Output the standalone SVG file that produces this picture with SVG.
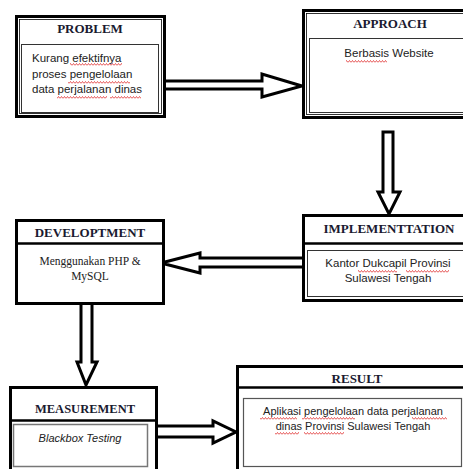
<svg xmlns="http://www.w3.org/2000/svg" width="463" height="469" viewBox="0 0 463 469">
<style>
.outer{fill:#fff;stroke:#000;stroke-width:3}
.thin{fill:none;stroke:#000;stroke-width:0.8}
.inner{fill:none;stroke:#333;stroke-width:1}
.sep{stroke:#000;stroke-width:2.5}
.title{font-family:"Liberation Serif",serif;font-weight:bold;font-size:13px;fill:#1a1a30;text-anchor:middle}
.body{font-family:"Liberation Sans",Arial,sans-serif;font-size:11.5px;fill:#222}
.serif{font-family:"Liberation Serif",serif;font-size:11.5px;fill:#222;text-anchor:middle}
.arrow{fill:#fff;stroke:#000;stroke-width:3;stroke-linejoin:miter}
.sq{fill:url(#sq)}
</style>
<defs>
<pattern id="sq" width="3" height="3" patternUnits="userSpaceOnUse"><path d="M0,2.5 L1.5,0.5 L3,2.5" fill="none" stroke="#e03030" stroke-width="0.8"/></pattern>
</defs>
<rect width="463" height="469" fill="#fff"/>

<g id="connectors">
<path class="arrow" d="M165,81 H262 V74 L302,86 L262,97 V89 H165"/>
<path class="arrow" d="M383,132 H393 V192 H400 L389,214 L378,192 H383 Z"/>
<path class="arrow" d="M305,258 H200 V253 L161,263 L200,273 V267 H305"/>
<path class="arrow" d="M81,304 V362 H77 L86,385 L97,362 H92 V304"/>
<path class="arrow" d="M157,426 H213 V421 L236,432 L213,443 V437 H157"/>
</g>

<g id="problem">
<rect class="outer" x="16.5" y="16.5" width="148" height="100"/>
<rect class="thin" x="19.5" y="19.5" width="142" height="94"/>
<text class="title" x="90" y="33">PROBLEM</text>
<rect class="inner" x="21.5" y="44.5" width="137" height="68"/>
<text class="body" x="32" y="62">Kurang efektifnya</text>
<text class="body" x="32" y="78">proses pengelolaan</text>
<text class="body" x="32" y="93">data perjalanan dinas</text>
<rect class="sq" x="70" y="63" width="52" height="3"/>
<rect class="sq" x="68" y="81" width="62" height="3"/>
<rect class="sq" x="57" y="96" width="50" height="3"/>
<rect class="sq" x="110" y="96" width="31" height="3"/>
</g>

<g id="approach">
<rect class="outer" x="303.5" y="10.5" width="170" height="107"/>
<rect class="thin" x="306.5" y="13.5" width="170" height="101"/>
<text class="title" x="390" y="28">APPROACH</text>
<rect class="inner" x="309.5" y="38.5" width="170" height="74"/>
<text class="body" x="389" y="57" text-anchor="middle">Berbasis Website</text>
<rect class="sq" x="346" y="60" width="41" height="3"/>
</g>

<g id="implementation">
<rect class="outer" x="303.5" y="215.5" width="170" height="85"/>
<line class="sep" x1="303" y1="243.5" x2="463" y2="243.5"/>
<text class="title" x="389" y="233">IMPLEMENTTATION</text>
<rect class="inner" x="307.5" y="250.5" width="170" height="46"/>
<text class="body" x="388" y="267" text-anchor="middle">Kantor Dukcapil Provinsi</text>
<text class="body" x="388" y="282" text-anchor="middle">Sulawesi Tengah</text>
<rect class="sq" x="358" y="270" width="39" height="3"/>
<rect class="sq" x="406" y="270" width="43" height="3"/>
</g>

<g id="developtment">
<rect class="outer" x="16.5" y="220.5" width="147" height="83" stroke-width="2.5"/>
<line class="sep" x1="16" y1="243.5" x2="164" y2="243.5"/>
<text class="title" x="90" y="237">DEVELOPTMENT</text>
<text class="serif" x="90" y="265">Menggunakan PHP &amp;</text>
<text class="serif" x="90" y="280">MySQL</text>
</g>

<g id="measurement">
<rect class="outer" x="10.5" y="387.5" width="146" height="90" stroke-width="2.5"/>
<line class="sep" x1="10" y1="420.5" x2="157" y2="420.5"/>
<text class="title" x="85" y="413" style="font-size:12.5px">MEASUREMENT</text>
<rect x="13.5" y="424.5" width="134" height="42" fill="none" stroke="#777" stroke-width="1.5"/>
<text class="body" x="80" y="442" text-anchor="middle" font-style="italic" style="font-size:11px">Blackbox Testing</text>
</g>

<g id="result">
<rect class="outer" x="237.5" y="366.5" width="236" height="110"/>
<line class="sep" x1="237" y1="387.5" x2="463" y2="387.5"/>
<text class="title" x="357" y="383">RESULT</text>
<rect x="243.5" y="398.5" width="218" height="68" fill="none" stroke="#555" stroke-width="1.2"/>
<text class="body" x="353" y="415" text-anchor="middle" style="font-size:11px">Aplikasi pengelolaan data perjalanan</text>
<text class="body" x="353" y="430" text-anchor="middle" style="font-size:11px">dinas Provinsi Sulawesi Tengah</text>
<rect class="sq" x="260" y="417" width="37" height="3"/>
<rect class="sq" x="302" y="417" width="53" height="3"/>
<rect class="sq" x="412" y="417" width="35" height="3"/>
<rect class="sq" x="275" y="432" width="24" height="3"/>
<rect class="sq" x="304" y="432" width="40" height="3"/>
</g>
</svg>
